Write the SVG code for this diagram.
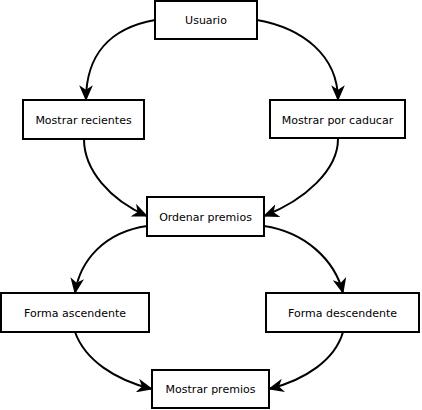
<svg xmlns="http://www.w3.org/2000/svg" width="422" height="410" viewBox="0 0 422 410">
<defs>
<style>
.box{fill:#fff;stroke:#000;stroke-width:2}
.lbl{font-family:"DejaVu Sans",sans-serif;font-size:11px;fill:#000;text-anchor:middle;dominant-baseline:central}
.edge{fill:none;stroke:#000;stroke-width:2;marker-end:url(#arr)}
</style>
<marker id="arr" markerUnits="userSpaceOnUse" markerWidth="16" markerHeight="14" refX="13" refY="6" orient="auto" viewBox="0 0 14 12">
<path d="M0,0 L14,6 L0,12 L4,6 Z" fill="#000"/>
</marker>
</defs>
<g id="edges">
<path class="edge" d="M155,20 C110,28 86,55 86,100"/>
<path class="edge" d="M257,20 C302,28 338,55 338,100"/>
<path class="edge" d="M84,139 C84,170 110,200 147,216"/>
<path class="edge" d="M338,139 C338,170 305,200 264,216"/>
<path class="edge" d="M147,226 C105,232 80,260 75,293"/>
<path class="edge" d="M264,226 C305,232 335,260 343,293"/>
<path class="edge" d="M75,332 C85,360 115,380 152,389"/>
<path class="edge" d="M343,332 C335,360 305,380 269,389"/>
</g>
<g id="usuario"><rect class="box" x="155" y="1" width="102" height="38"/><text class="lbl" x="206" y="20">Usuario</text></g>
<g id="recientes"><rect class="box" x="23" y="100" width="121" height="39"/><text class="lbl" x="83.5" y="120">Mostrar recientes</text></g>
<g id="caducar"><rect class="box" x="270" y="100" width="135" height="38"/><text class="lbl" x="337.5" y="120">Mostrar por caducar</text></g>
<g id="ordenar"><rect class="box" x="147" y="197" width="117" height="39"/><text class="lbl" x="205.5" y="217">Ordenar premios</text></g>
<g id="ascendente"><rect class="box" x="1" y="293" width="148" height="39"/><text class="lbl" x="75" y="313">Forma ascendente</text></g>
<g id="descendente"><rect class="box" x="266" y="293" width="153" height="39"/><text class="lbl" x="342.5" y="313">Forma descendente</text></g>
<g id="mostrar"><rect class="box" x="152" y="370" width="117" height="38"/><text class="lbl" x="210.5" y="389">Mostrar premios</text></g>
</svg>
